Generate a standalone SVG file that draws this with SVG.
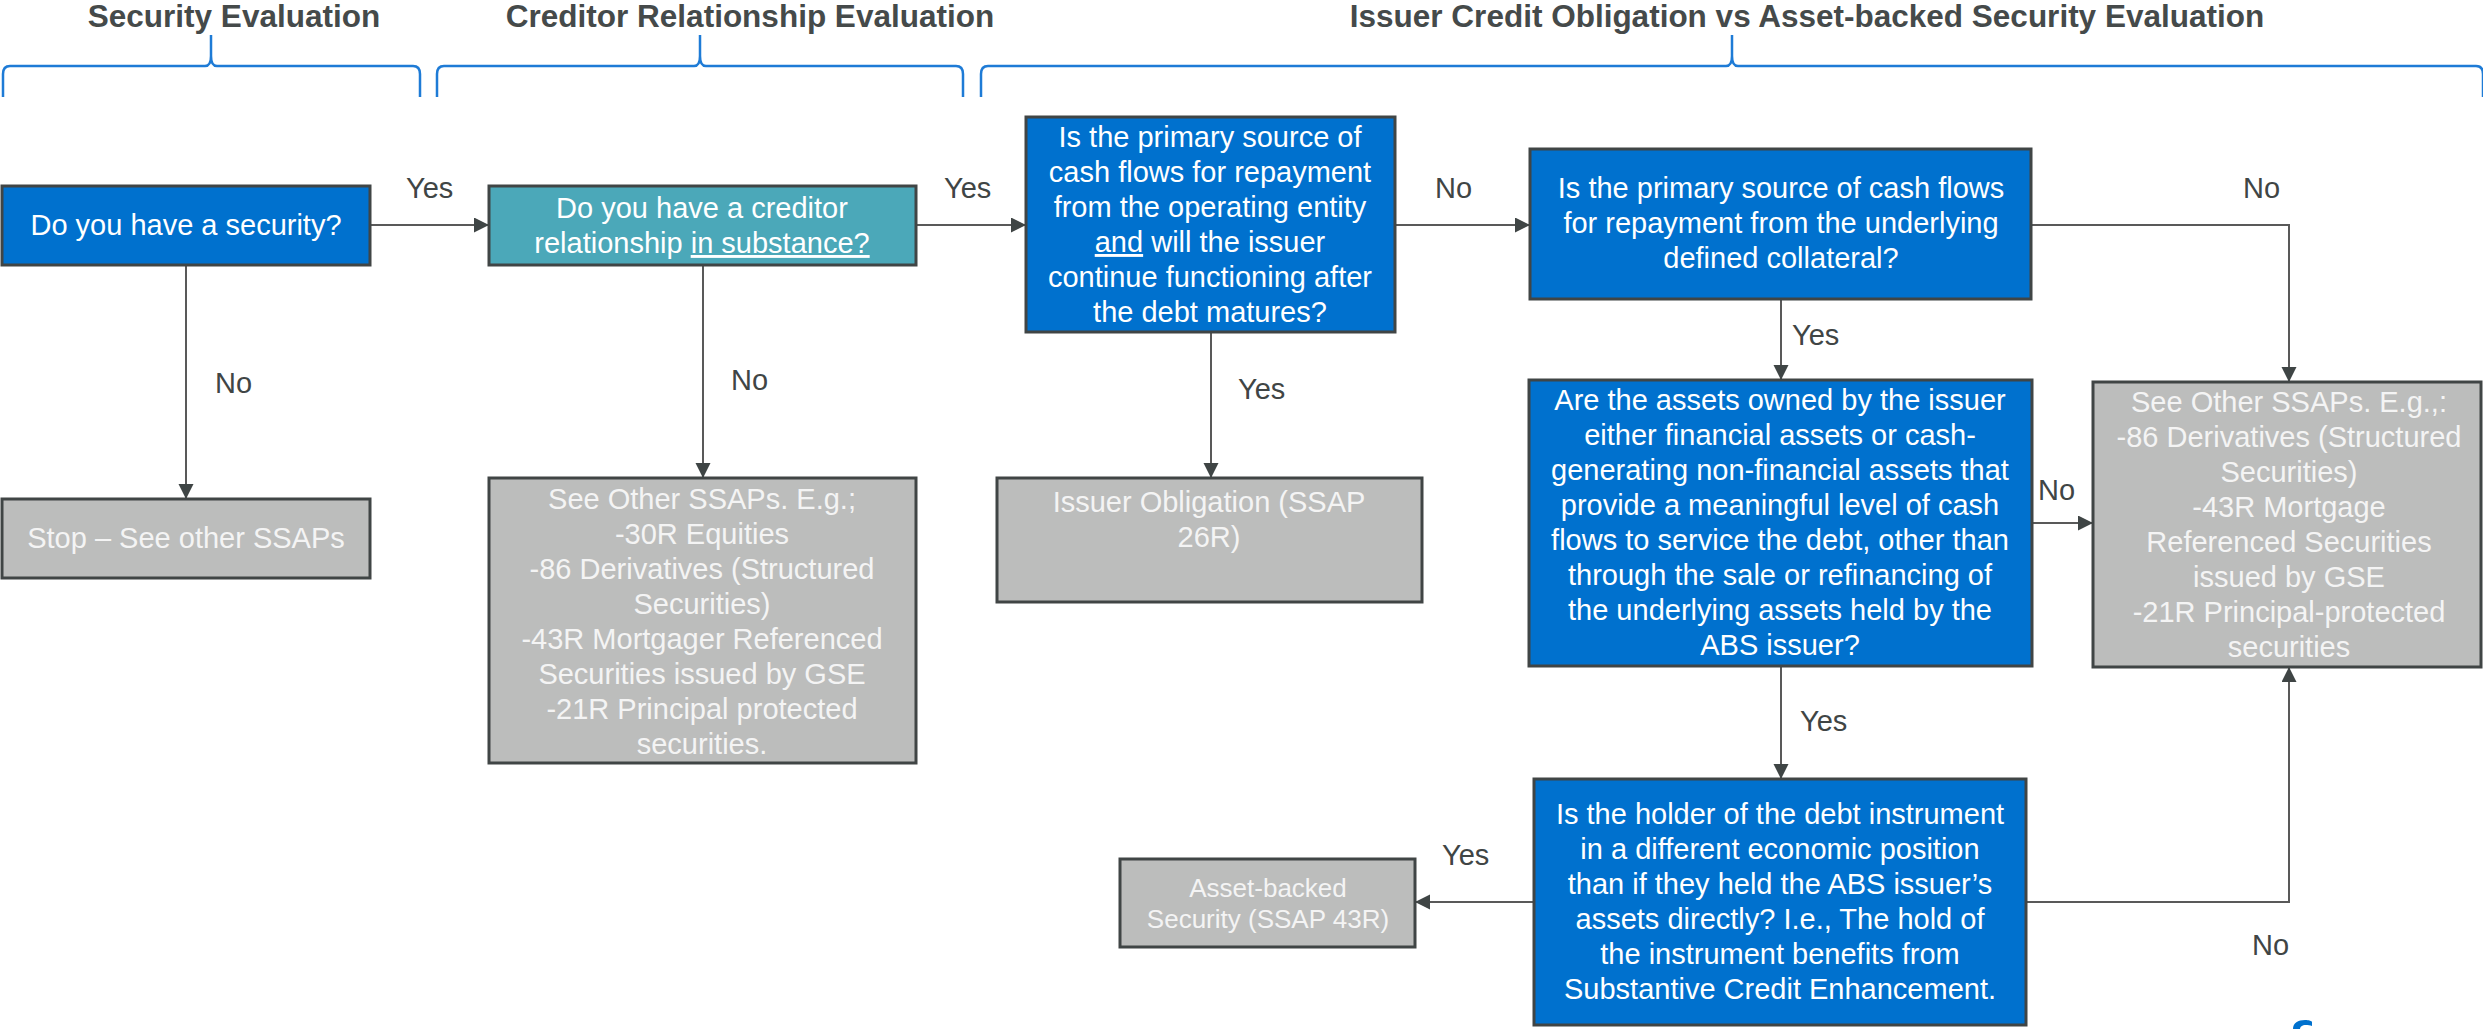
<svg xmlns="http://www.w3.org/2000/svg" width="2483" height="1029" viewBox="0 0 2483 1029">
<style>
text{font-family:"Liberation Sans",Arial,sans-serif}
.hd{font-size:31.5px;font-weight:bold;fill:#454a4a;text-anchor:middle}
.lb{font-size:29px;fill:#404545}
.bt{font-size:29px;fill:#ffffff;text-anchor:middle}
.gt{font-size:29px;fill:#f4f4f4;text-anchor:middle}
.blue{fill:#0071ce;stroke:#404545;stroke-width:3}
.teal{fill:#4ba8b9;stroke:#404545;stroke-width:3}
.gray{fill:#bcbdbc;stroke:#404545;stroke-width:3}
.brace{fill:none;stroke:#1e7bd6;stroke-width:2.5}
.con{fill:none;stroke:#595959;stroke-width:2;marker-end:url(#arr)}
</style>
<defs>
<marker id="arr" markerUnits="userSpaceOnUse" markerWidth="16" markerHeight="16" refX="15" refY="7.5" orient="auto">
<path d="M0,0 L15,7.5 L0,15 Z" fill="#3f4545"/>
</marker>
</defs>
<rect width="2483" height="1029" fill="#ffffff"/>

<g id="headers">
<text class="hd" x="234" y="27">Security Evaluation</text>
<text class="hd" x="750" y="27">Creditor Relationship Evaluation</text>
<text class="hd" x="1807" y="27">Issuer Credit Obligation vs Asset-backed Security Evaluation</text>
<path class="brace" d="M3,97 L3,74 Q3,66 10,66 L205,66 Q211,66 211,56 L211,35 L211,56 Q211,66 217,66 L413,66 Q420,66 420,74 L420,97"/>
<path class="brace" d="M437,97 L437,74 Q437,66 444,66 L694,66 Q700,66 700,56 L700,35 L700,56 Q700,66 706,66 L956,66 Q963,66 963,74 L963,97"/>
<path class="brace" d="M981,97 L981,74 Q981,66 988,66 L1726,66 Q1732,66 1732,56 L1732,35 L1732,56 Q1732,66 1738,66 L2476,66 Q2483,66 2483,74 L2483,97"/>
</g>

<g id="connectors">
<path class="con" d="M370,225 H489"/>
<path class="con" d="M916,225 H1026"/>
<path class="con" d="M1395,225 H1530"/>
<path class="con" d="M2031,225 H2289 V382"/>
<path class="con" d="M186,265 V499"/>
<path class="con" d="M703,265 V478"/>
<path class="con" d="M1211,332 V478"/>
<path class="con" d="M1781,299 V380"/>
<path class="con" d="M2032,523 H2093"/>
<path class="con" d="M1781,666 V779"/>
<path class="con" d="M1534,902 H1415"/>
<path class="con" d="M2026,902 H2289 V667"/>
<text class="lb" x="406" y="198">Yes</text>
<text class="lb" x="944" y="198">Yes</text>
<text class="lb" x="1435" y="198">No</text>
<text class="lb" x="2243" y="198">No</text>
<text class="lb" x="215" y="393">No</text>
<text class="lb" x="731" y="390">No</text>
<text class="lb" x="1238" y="399">Yes</text>
<text class="lb" x="1792" y="345">Yes</text>
<text class="lb" x="2038" y="500">No</text>
<text class="lb" x="1800" y="731">Yes</text>
<text class="lb" x="1442" y="865">Yes</text>
<text class="lb" x="2252" y="955">No</text>
</g>

<g id="security">
<rect class="blue" x="2" y="186" width="368" height="79"/>
<text class="bt" x="186" y="235">Do you have a security?</text>
</g>

<g id="stop">
<rect class="gray" x="2" y="499" width="368" height="79"/>
<text class="gt" x="186" y="548">Stop – See other SSAPs</text>
</g>

<g id="creditor">
<rect class="teal" x="489" y="186" width="427" height="79"/>
<text class="bt" x="702" y="218">Do you have a creditor</text>
<text class="bt" x="702" y="253">relationship <tspan text-decoration="underline">in substance?</tspan></text>
</g>

<g id="other-ssaps-1">
<rect class="gray" x="489" y="478" width="427" height="285"/>
<text class="gt" x="702" y="509">See Other SSAPs. E.g.;</text>
<text class="gt" x="702" y="544">-30R Equities</text>
<text class="gt" x="702" y="579">-86 Derivatives (Structured</text>
<text class="gt" x="702" y="614">Securities)</text>
<text class="gt" x="702" y="649">-43R Mortgager Referenced</text>
<text class="gt" x="702" y="684">Securities issued by GSE</text>
<text class="gt" x="702" y="719">-21R Principal protected</text>
<text class="gt" x="702" y="754">securities.</text>
</g>

<g id="operating-entity">
<rect class="blue" x="1026" y="117" width="369" height="215"/>
<text class="bt" x="1210" y="147">Is the primary source of</text>
<text class="bt" x="1210" y="182">cash flows for repayment</text>
<text class="bt" x="1210" y="217">from the operating entity</text>
<text class="bt" x="1210" y="252"><tspan text-decoration="underline">and</tspan> will the issuer</text>
<text class="bt" x="1210" y="287">continue functioning after</text>
<text class="bt" x="1210" y="322">the debt matures?</text>
</g>

<g id="issuer-obligation">
<rect class="gray" x="997" y="478" width="425" height="124"/>
<text class="gt" x="1209" y="512">Issuer Obligation (SSAP</text>
<text class="gt" x="1209" y="547">26R)</text>
</g>

<g id="collateral">
<rect class="blue" x="1530" y="149" width="501" height="150"/>
<text class="bt" x="1781" y="198">Is the primary source of cash flows</text>
<text class="bt" x="1781" y="233">for repayment from the underlying</text>
<text class="bt" x="1781" y="268">defined collateral?</text>
</g>

<g id="assets-owned">
<rect class="blue" x="1529" y="380" width="503" height="286"/>
<text class="bt" x="1780" y="410">Are the assets owned by the issuer</text>
<text class="bt" x="1780" y="445">either financial assets or cash-</text>
<text class="bt" x="1780" y="480">generating non-financial assets that</text>
<text class="bt" x="1780" y="515">provide a meaningful level of cash</text>
<text class="bt" x="1780" y="550">flows to service the debt, other than</text>
<text class="bt" x="1780" y="585">through the sale or refinancing of</text>
<text class="bt" x="1780" y="620">the underlying assets held by the</text>
<text class="bt" x="1780" y="655">ABS issuer?</text>
</g>

<g id="other-ssaps-2">
<rect class="gray" x="2093" y="382" width="388" height="285"/>
<text class="gt" x="2289" y="412">See Other SSAPs. E.g.,:</text>
<text class="gt" x="2289" y="447">-86 Derivatives (Structured</text>
<text class="gt" x="2289" y="482">Securities)</text>
<text class="gt" x="2289" y="517">-43R Mortgage</text>
<text class="gt" x="2289" y="552">Referenced Securities</text>
<text class="gt" x="2289" y="587">issued by GSE</text>
<text class="gt" x="2289" y="622">-21R Principal-protected</text>
<text class="gt" x="2289" y="657">securities</text>
</g>

<g id="holder">
<rect class="blue" x="1534" y="779" width="492" height="246"/>
<text class="bt" x="1780" y="824">Is the holder of the debt instrument</text>
<text class="bt" x="1780" y="859">in a different economic position</text>
<text class="bt" x="1780" y="894">than if they held the ABS issuer’s</text>
<text class="bt" x="1780" y="929">assets directly? I.e., The hold of</text>
<text class="bt" x="1780" y="964">the instrument benefits from</text>
<text class="bt" x="1780" y="999">Substantive Credit Enhancement.</text>
</g>

<g id="asset-backed">
<rect class="gray" x="1120" y="859" width="295" height="88"/>
<text class="gt" x="1268" y="897" style="font-size:26px">Asset-backed</text>
<text class="gt" x="1268" y="928" style="font-size:26px">Security (SSAP 43R)</text>
</g>

<path d="M2293,1029 C2293,1023 2298,1020 2305,1020 C2309,1020 2312,1021 2312,1022 L2312,1026 C2310,1025 2308,1025 2306,1025 C2302,1025 2300,1027 2300,1029 Z" fill="#0071ce"/>
</svg>
